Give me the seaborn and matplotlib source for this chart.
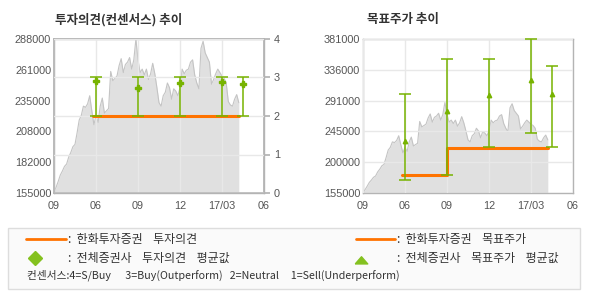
import numpy as np
import pandas as pd
import matplotlib
matplotlib.use("Agg")
import matplotlib.pyplot as plt
from matplotlib.lines import Line2D
from matplotlib.patches import Rectangle
import seaborn as sns

# ---------------- data ----------------
x_labels = ["09", "06", "09", "12", "17/03", "06"]

price = [156000, 160000, 165000, 170500, 174000, 178000, 180000, 186000, 190000, 195000,
         197000, 207000, 218000, 222000, 230000, 229000, 232000, 239000, 226000, 214000,
         222000, 216000, 230000, 237000, 224000, 226000, 228000, 260000, 252000, 254000,
         256000, 265000, 271000, 259000, 266000, 268000, 272000, 262000, 270000, 288000,
         270000, 259000, 262000, 257000, 262000, 253000, 258000, 267000, 258000, 246000,
         233000, 230000, 239000, 242000, 250000, 246000, 236000, 245000, 243000, 239000,
         246000, 262000, 258000, 261000, 262000, 268000, 270000, 257000, 250000, 245000,
         280000, 286000, 276000, 272000, 268000, 249000, 253000, 258000, 262000, 259000,
         256000, 254000, 250000, 234000, 231000, 230000, 236000, 240000, 233000]
price_end = 4.40

# Hanwha opinion (2 = Neutral)
op_x = [0.92, 4.40]
op_val = [2, 2]

# consensus opinion: mean / low / high
cons_x = [1.0, 2.0, 3.0, 4.0, 4.5]
cons_mean = [2.90, 2.73, 2.85, 2.88, 2.83]
cons_low = [2, 2, 2, 2, 2]
cons_high = [3, 3, 3, 3, 3]

# Hanwha target price (step)
tp_x = [0.94, 2.0, 2.0, 4.40]
tp_val = [182000, 182000, 221000, 221000]

# consensus target price
tgt_mean = [231000, 275000, 299000, 321000, 300000]
tgt_low = [174000, 182000, 222000, 243000, 222000]
tgt_high = [300000, 351000, 351000, 381000, 341000]

left_ylabels = ["155000", "182000", "208000", "235000", "261000", "288000"]
right_ylabels = ["155000", "200000", "245000", "291000", "336000", "381000"]
op_ylabels = ["0", "1", "2", "3", "4"]

# ---------------- style ----------------
sns.set_theme(style="white")
plt.rcParams['font.family'] = ['Noto Sans CJK KR', 'DejaVu Sans']

ORANGE = "#ff7300"
GREEN = "#77b300"
FILL = "#e0e0e0"
EDGE = "#c4c4c4"
GRID = "#e8e8e8"
SPINE = "#b4b4b4"
TICKC = "#555555"

W, H = 590, 300
fig = plt.figure(figsize=(W / 100, H / 100), dpi=100)
fig.patch.set_facecolor("white")

def fx(px):
    return px / W

def fy(py):
    return 1 - py / H

df = pd.DataFrame({"x": np.linspace(0, price_end, len(price)), "price": price})

def base_axes(left_px, ylo, yhi, ylabels):
    ax = fig.add_axes([fx(left_px), fy(193), 210 / W, 154 / H])
    ax.fill_between(df["x"], ylo, df["price"], color=FILL, lw=0, zorder=1)
    sns.lineplot(data=df, x="x", y="price", ax=ax, color=EDGE, lw=0.8, zorder=2)
    ax.set_xlim(0, 5)
    ax.set_ylim(ylo, yhi)
    ax.set_xticks(range(6))
    ax.set_xticklabels(x_labels, family=["Liberation Sans"], fontsize=7.8, color=TICKC)
    ax.set_yticks(np.linspace(ylo, yhi, 6))
    ax.set_yticklabels(ylabels, family=["Liberation Sans"], fontsize=7.8, color=TICKC)
    ax.set_xlabel("")
    ax.set_ylabel("")
    ax.tick_params(axis="x", length=3, color=SPINE, pad=3)
    ax.tick_params(axis="y", length=0, pad=2)
    ax.grid(axis="x", color=GRID, lw=1)
    ax.set_axisbelow(False)
    for s in ax.spines.values():
        s.set_color(SPINE)
        s.set_linewidth(1)
    return ax

# ---------------- left panel ----------------
axL = base_axes(54, 155000, 288000, left_ylabels)
axL2 = axL.twinx()
axL2.set_ylim(0, 4)
axL2.set_yticks(range(5))
axL2.set_yticklabels(op_ylabels, family=["Liberation Sans"], fontsize=7.8, color=TICKC)
axL2.tick_params(axis="y", length=4, color=SPINE, pad=3)
axL2.grid(axis="y", color=GRID, lw=1)
axL2.set_axisbelow(False)
for s in axL2.spines.values():
    s.set_color(SPINE)
sns.lineplot(x=op_x, y=op_val, ax=axL2, color=ORANGE, lw=2.2, zorder=4)
c_mean = np.array(cons_mean)
axL2.errorbar(cons_x, c_mean,
              yerr=[c_mean - np.array(cons_low), np.array(cons_high) - c_mean],
              fmt="none", ecolor=GREEN, elinewidth=1.1, capsize=4.3, capthick=1.1, zorder=5)
axL2.plot(cons_x, cons_mean, ls="none", marker="P", ms=3.8, color=GREEN, mec=GREEN, zorder=6)
axL2.set_xlim(0, 5)

fig.text(fx(55), fy(20), "투자의견(컨센서스) 추이", fontsize=9, fontweight="bold",
         color="#333333", va="center", ha="left")

# ---------------- right panel ----------------
axR = base_axes(363, 155000, 381000, right_ylabels)
axR.grid(axis="y", color=GRID, lw=1)
sns.lineplot(x=tp_x, y=tp_val, ax=axR, color=ORANGE, lw=2.2, zorder=4, sort=False,
             estimator=None)
t_mean = np.array(tgt_mean)
axR.errorbar(cons_x, t_mean,
             yerr=[t_mean - np.array(tgt_low), np.array(tgt_high) - t_mean],
             fmt="none", ecolor=GREEN, elinewidth=1.1, capsize=4.3, capthick=1.1, zorder=5,
             clip_on=False)
axR.plot(cons_x, tgt_mean, ls="none", marker="^", ms=3.2, color=GREEN, mec=GREEN, zorder=6)
axR.set_xlim(0, 5)
axR.set_ylim(155000, 381000)

fig.text(fx(367), fy(20), "목표주가 추이", fontsize=9, fontweight="bold",
         color="#333333", va="center", ha="left")

# ---------------- legend box ----------------
fig.add_artist(Rectangle((fx(8), fy(289)), fx(572), 61 / H, transform=fig.transFigure,
                         facecolor="#fafafa", edgecolor="#dddddd", lw=1, zorder=0))
fig.add_artist(Line2D([fx(26), fx(66)], [fy(239), fy(239)], color=ORANGE, lw=2,
                      transform=fig.transFigure))
fig.add_artist(Line2D([fx(35)], [fy(258)], marker="D", ms=7.5, color="#84c11f", ls="none",
                      transform=fig.transFigure))
fig.add_artist(Line2D([fx(356), fx(395)], [fy(239), fy(239)], color=ORANGE, lw=2,
                      transform=fig.transFigure))
flat_tri = [(-1.0, -0.55), (1.0, -0.55), (0.0, 0.6), (-1.0, -0.55)]
fig.add_artist(Line2D([fx(361)], [fy(260)], marker=flat_tri, ms=9, color="#84c11f", ls="none",
                      transform=fig.transFigure))

lg = dict(fontsize=8.6, color="#333333", va="center", ha="left")
fig.text(fx(68), fy(239), ":  한화투자증권    투자의견", **lg)
fig.text(fx(68), fy(258), ":  전체증권사    투자의견    평균값", **lg)
fig.text(fx(397), fy(239), ":  한화투자증권    목표주가", **lg)
fig.text(fx(397), fy(258), ":  전체증권사    목표주가    평균값", **lg)
fig.text(fx(27), fy(275), "컨센서스:4=S/Buy      3=Buy(Outperform)   2=Neutral     1=Sell(Underperform)",
         fontsize=7.7, color="#333333", va="center", ha="left")

fig.savefig("out.png", dpi=100, facecolor="white")
